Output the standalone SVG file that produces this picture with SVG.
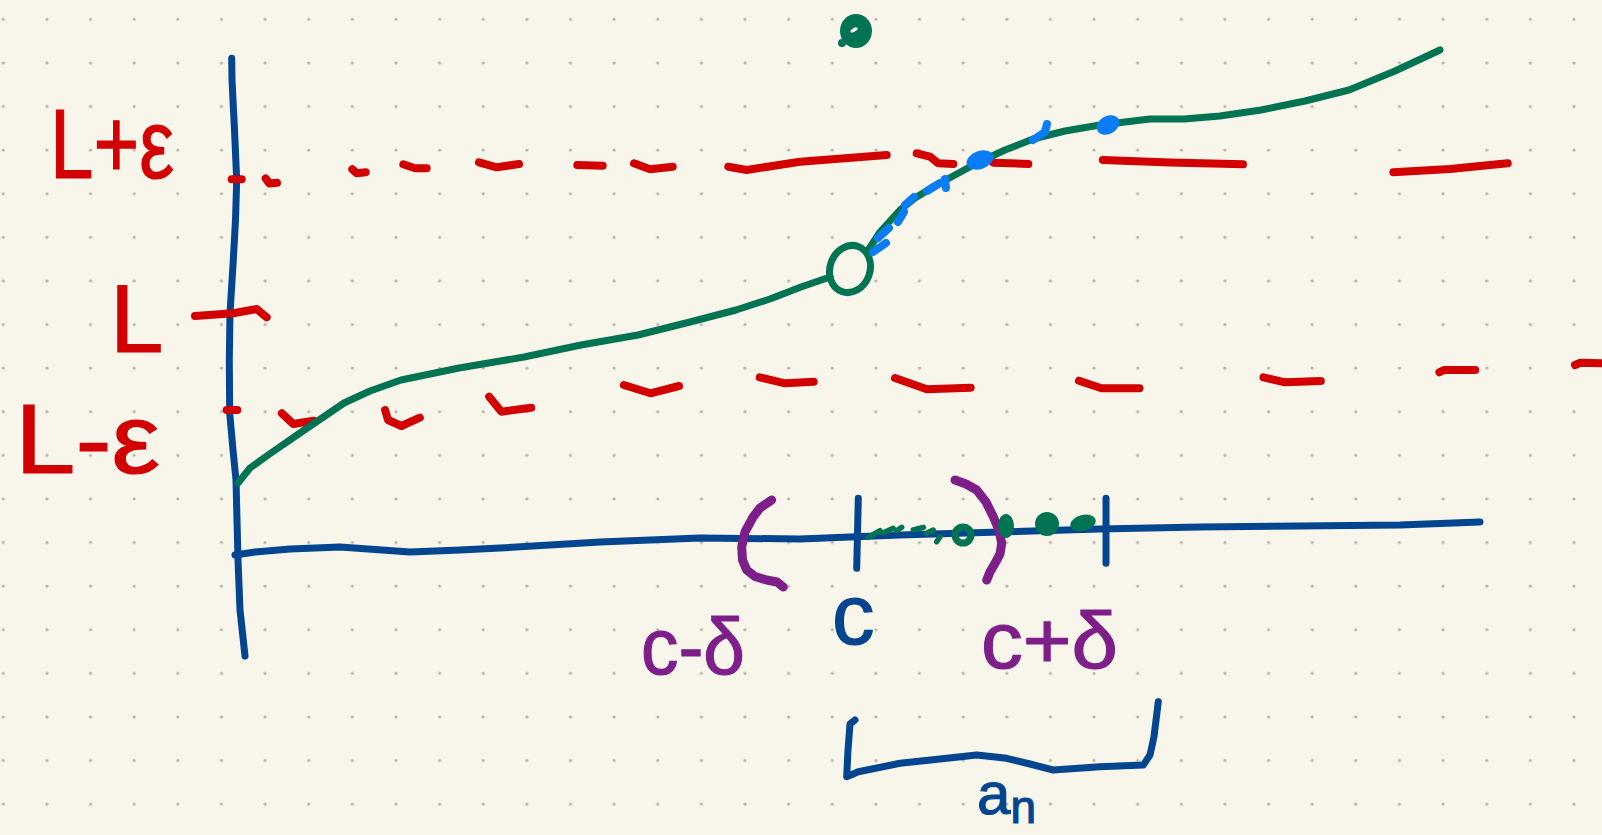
<svg xmlns="http://www.w3.org/2000/svg" width="1602" height="835" viewBox="0 0 1602 835">
<defs>
<pattern id="dots" patternUnits="userSpaceOnUse" x="-18.5" y="-2.5" width="43.63" height="43.6">
<circle cx="21.8" cy="21.8" r="1.6" fill="#b4b2aa"/>
</pattern>
<style>
.ink{fill:none;stroke-linecap:round;stroke-linejoin:round}
.blue{stroke:#03468f;stroke-width:7}
.green{stroke:#007352;stroke-width:7}
.red{stroke:#d20000;stroke-width:8}
.purple{stroke:#7e1f89;stroke-width:9}
.lblue{stroke:#0a7cf6;stroke-width:8}
.lbl{font-family:"Liberation Sans","DejaVu Sans",sans-serif;stroke-width:1.2}
.tred{fill:#d20000;stroke:#d20000}
.tpur{fill:#7e1f89;stroke:#7e1f89}
.tblu{fill:#03468f;stroke:#03468f}
</style>
</defs>
<rect width="1602" height="835" fill="#f8f6ea"/>
<rect width="1602" height="835" fill="url(#dots)"/>

<g id="axes">
<path class="ink blue" d="M231.7,58.3 L232,80 L234.5,130 L236.7,180 L235.5,220 L233,265 L230,313 L229.3,360 L229.7,413 L233,450 L236,480 L237,520 L238,560 L240,610 L245,656"/>
<path class="ink blue" d="M235,555 L255,552 L290,549 L340,547 L410,552 L460,550 L500,548 L600,542 L700,538 L800,539 L900,535 L1000,532 L1100,529 L1200,527 L1300,526 L1400,525 L1480,522"/>
<path class="ink blue" d="M858.3,498.3 L856.7,568.3"/>
<path class="ink blue" d="M1106,498.3 L1106,563.3"/>
</g>

<g id="bracket-an">
<path class="ink blue" d="M855,720 L850,724 L848,750 L846.7,776.7 L858.3,771.7 L900,763.3 L940,759 L976.7,755 L1006.7,758.3 L1030,764 L1053.3,770 L1100,766.7 L1143.3,765 L1150,755 L1154,736.7 L1158.3,701.7"/>
</g>

<g id="interval">
<path class="ink purple" d="M771.7,500 L760,508 L753.3,516.7 L745,532 L741.7,546.7 L742.5,560 L746.7,570 L755,576.5 L766.7,580 L777,582 L783.3,587"/>
<path class="ink purple" d="M955,480 L966,484 L976.7,490 L986,502 L993.3,516.7 L999,530 L1001.7,543.3 L1000,554 L995,563.3 L990,572 L986.7,580"/>
</g>

<g id="epsilon-band">
<path class="ink red" d="M231.7,179.3 L241.7,179.3"/>
<path class="ink red" d="M265.7,178.5 L269.5,183.5 L277,182.8"/>
<path class="ink red" d="M352.3,169.3 L356.7,173.3 L365.7,172.3"/>
<path class="ink red" d="M403.3,164.3 L415,168.3 L426.7,168.3"/>
<path class="ink red" d="M479,162.3 L496.7,167.3 L519,164"/>
<path class="ink red" d="M577.3,165 L602.7,165.7"/>
<path class="ink red" d="M634,163.3 L650,169.3 L672.7,166.7"/>
<path class="ink red" d="M728.3,166.7 L746.7,170 L800,161.7 L886.7,155"/>
<path class="ink red" d="M916.7,153.3 L930,156.7 L938.3,163.3 L953.3,164"/>
<path class="ink red" d="M993.3,162.7 L1028.3,164"/>
<path class="ink red" d="M1102.8,160 L1170,162.5 L1243,164.3"/>
<path class="ink red" d="M1393.3,172.3 L1450,169 L1507.7,163.3"/>

<path class="ink red" d="M195,316 L233.3,313.3 L256.7,309 L266.7,317.3"/>

<path class="ink red" d="M226.7,410 L237.3,410"/>
<path class="ink red" d="M281.8,413.3 L293.3,424 L313.7,420.7"/>
<path class="ink red" d="M385.1,410 L388,420 L401.4,426 L419.8,417.7"/>
<path class="ink red" d="M489.2,396.7 L501.4,411.7 L531.2,407.7"/>
<path class="ink red" d="M623.9,385 L650.4,393.3 L679,386"/>
<path class="ink red" d="M759.8,377.3 L785.1,383.3 L813.7,381.7"/>
<path class="ink red" d="M895,378 L926.9,389.3 L970.7,387.7"/>
<path class="ink red" d="M1079,380.7 L1101.4,388.3 L1139.5,388.3"/>
<path class="ink red" d="M1263.5,377.3 L1285,382.3 L1320.8,381"/>
<path class="ink red" d="M1439.4,372.3 L1443.9,370 L1475.2,370"/>
<path class="ink red" d="M1575,365 L1580.4,362.7 L1602,363.3"/>
</g>

<g id="function">
<path class="ink green" d="M238,483 L250,468 L271,453 L300,433 L344,403 L370,391 L401,380 L459,368 L524,357 L581,345 L638,335 L690,322 L736,310 L770,299 L801,287 L830,277"/>
<ellipse class="ink green" cx="850" cy="269" rx="20" ry="24" transform="rotate(20 850 269)"/>
<path class="ink green" d="M869,249 L880,232 L900,210 L915,198 L933,187 L955,175 L977,163 L1005,150 L1033,139 L1065,131 L1100,125 L1150,119 L1184,119 L1220,116 L1261,110 L1305,101 L1349,90 L1395,71 L1440,50"/>
<ellipse cx="856" cy="31" rx="16" ry="17" fill="#007352"/>
<circle cx="842" cy="43" r="4" fill="#007352"/>
<ellipse cx="854" cy="30" rx="4" ry="1.8" transform="rotate(-30 854 30)" fill="#f8f6ea"/>
</g>

<g id="blue-marks">
<path class="ink lblue" d="M873,252 L886,243"/>
<path class="ink lblue" d="M878,238 L889,228"/>
<path class="ink lblue" d="M898,222 L904,212 M905,205 L914,197"/>
<path class="ink lblue" d="M927,191 L940,183 M945,179 L946,188"/>
<ellipse cx="980" cy="160" rx="14" ry="9" transform="rotate(-20 980 160)" fill="#0a7cf6"/>
<path class="ink lblue" d="M1033,140 L1045,132 L1047,124"/>
<ellipse cx="1108" cy="125" rx="12" ry="9" transform="rotate(-30 1108 125)" fill="#0a7cf6"/>
</g>

<g id="sequence">
<path class="ink green" style="stroke-width:5.5" d="M868.3,537.3 L880,530.7 M883.3,532.7 L893.3,528.3 M896.7,530.7 L901.7,527.3 M913.3,530 L923.3,527.3 M926.7,533.3 L933.3,530 M936.7,541.7 L940,536.7"/>
<circle class="ink green" style="stroke-width:7" cx="963" cy="535" r="8"/>
<ellipse cx="1006" cy="526" rx="8" ry="12" fill="#007352"/>
<ellipse cx="1047" cy="524" rx="12" ry="12" fill="#007352"/>
<ellipse cx="1083" cy="523" rx="13" ry="8" transform="rotate(-15 1083 523)" fill="#007352"/>
</g>

<g id="labels">
<text class="lbl tred" x="50" y="178" font-size="98" textLength="124" lengthAdjust="spacingAndGlyphs">L+ε</text>
<text class="lbl tred" x="110" y="352" font-size="96">L</text>
<text class="lbl tred" x="15" y="473" font-size="98" textLength="145" lengthAdjust="spacingAndGlyphs">L-ε</text>
<text class="lbl tpur" x="641" y="674" font-size="80" textLength="104" lengthAdjust="spacingAndGlyphs">c-δ</text>
<text class="lbl tblu" x="832" y="644" font-size="85">c</text>
<text class="lbl tpur" x="981" y="668" font-size="80" textLength="137" lengthAdjust="spacingAndGlyphs">c+δ</text>
<text class="lbl tblu" x="977" y="814" font-size="60">a<tspan dy="9" font-size="46">n</tspan></text>
</g>
</svg>
